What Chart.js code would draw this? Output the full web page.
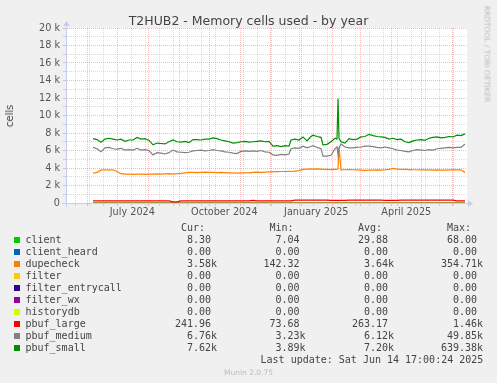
<!DOCTYPE html>
<html>
<head>
<meta charset="utf-8">
<title>T2HUB2 - Memory cells used - by year</title>
<script src="https://cdn.jsdelivr.net/npm/chart.js@4.4.1/dist/chart.umd.min.js"></script>
<style>
html,body{margin:0;padding:0;background:#f0f0f0;overflow:hidden;}
#wrap{position:relative;width:497px;height:383px;background:#f0f0f0;}
#c{position:absolute;left:0;top:0;}
.t{position:absolute;white-space:pre;margin:0;}
.mono{font-family:'DejaVu Sans Mono',monospace;font-size:10px;line-height:12px;color:#444;}
.sw{position:absolute;width:6px;height:6px;}
</style>
</head>
<body>
<div id="wrap">
<canvas id="c" width="497" height="383"></canvas>
<div class="t" id="title" style="left:0;width:497px;top:12.5px;text-align:center;font:12.5px/15px 'DejaVu Sans';color:#444;">T2HUB2 - Memory cells used - by year</div>
<div class="t" id="ylab" style="left:10px;top:115.5px;transform:translate(-50%,-50%) rotate(-90deg);font:10px/12px 'DejaVu Sans';color:#444;">cells</div>
<div class="t" id="rrd" style="left:487px;top:53.5px;transform:translate(-50%,-50%) rotate(90deg);font:7.5px/9px 'DejaVu Sans';color:#bbb;">RRDTOOL / TOBI OETIKER</div>
<div class="t" id="munin" style="left:0;width:497px;text-align:center;top:367.9px;font:7.5px/9px 'DejaVu Sans';color:#bbb;">Munin 2.0.75</div>
</div>
<script>
// ---------- data ----------
// day offsets from the graph start (400 days before last update)
const days = [27,31,35,39,43,47,51,55,59,63,
  67,71,75,79,83,87,91,95,99,103,
  107,111,115,119,123,127,131,135,139,143,
  147,151,155,159,163,167,171,175,179,183,
  187,191,195,199,203,207,211,215,219,223,
  225,229,233,237,241,245,247,251,255,257,
  261,265,269,271,272,273,275,279,283,287,
  291,295,299,303,307,311,315,319,323,327,
  331,335,339,343,347,351,355,359,363,367,
  371,375,379,383,387,391,395,399];

const pbuf_small = [7350,7250,6950,7300,7400,7300,7200,7300,7050,7200,
  7200,7500,7300,7350,7150,6650,6850,6800,6750,7000,
  7200,7000,6950,7050,6900,7250,7250,7200,7300,7300,
  7450,7350,7200,7100,7000,6850,6900,7000,7050,6950,
  7000,7050,7100,7000,7050,6500,6550,6450,6550,6500,
  7200,7300,7200,7550,7100,7600,7750,7600,7500,6650,
  6700,7000,7400,7300,11900,7400,7000,6850,7350,7250,
  7300,7550,7600,7850,7700,7600,7550,7500,7300,7400,
  7250,7300,7000,6900,7100,7200,7250,7150,7400,7500,
  7550,7450,7500,7600,7550,7750,7700,7900];

const pbuf_medium = [6350,6200,5850,6300,6350,6200,6150,6250,6050,6100,
  6050,6250,6050,6100,6000,5500,5750,5700,5600,5750,
  6050,5850,5800,5750,5800,5950,6000,6050,5950,6000,
  6100,6000,5950,5850,5800,5700,5650,5900,5950,5900,
  5950,5900,6000,5850,5800,5500,5450,5550,5500,5600,
  6200,6300,6250,6500,6300,6450,6550,6350,6200,5350,
  5350,5450,6200,6400,5500,6300,6750,6400,6300,6300,
  6350,6400,6500,6500,6450,6350,6300,6400,6300,6200,
  6050,6000,5900,5850,6000,6100,6050,6000,6100,6050,
  6200,6250,6300,6350,6300,6350,6350,6750];

const dupecheck = [3400,3500,3750,3800,3750,3800,3600,3350,3300,3300,
  3280,3300,3300,3280,3300,3300,3320,3300,3320,3350,
  3300,3350,3380,3450,3500,3500,3480,3500,3520,3500,
  3500,3480,3500,3480,3450,3450,3420,3450,3450,3450,
  3500,3520,3500,3520,3550,3550,3580,3600,3600,3620,
  3600,3650,3700,3850,3880,3900,3880,3900,3880,3850,
  3850,3820,3850,3850,3900,6400,3780,3800,3820,3800,
  3780,3750,3720,3750,3750,3780,3750,3800,3850,3950,
  3880,3850,3850,3820,3800,3800,3780,3800,3780,3750,
  3780,3750,3750,3780,3800,3780,3800,3500];

const pbuf_large = [240,240,240,240,240,240,240,240,240,240,
  240,240,240,240,240,240,240,240,240,240,
  140,140,235,235,235,235,235,235,235,235,
  235,235,235,235,235,235,235,235,235,235,
  300,235,235,235,235,235,235,235,235,235,
  240,330,330,330,330,330,330,330,330,330,
  330,300,300,310,280,300,290,300,330,330,
  330,330,330,330,330,330,330,310,310,310,
  310,330,330,330,330,330,330,330,330,330,
  330,330,330,330,330,240,240,240];

const clientDays = [27, 127, 227, 327, 399];
const client = [60, 30, 25, 20, 8];
const zeroDays = [27, 399];
const client_heard = [0, 0];
const filter = [0, 0];
const filter_entrycall = [0, 0];
const filter_wx = [0, 0];
const historydb = [0, 0];

// legend table
const names  = ['client','client_heard','dupecheck','filter','filter_entrycall','filter_wx','historydb','pbuf_large','pbuf_medium','pbuf_small'];
const colors = ['#00CC00','#0066B3','#FF8000','#FFCC00','#330099','#990099','#CCFF00','#FF0000','#808080','#008F00'];
const curV = ['8.30 ','0.00 ','3.58k','0.00 ','0.00 ','0.00 ','0.00 ','241.96 ','6.76k','7.62k'];
const minV = ['7.04 ','0.00 ','142.32 ','0.00 ','0.00 ','0.00 ','0.00 ','73.68 ','3.23k','3.89k'];
const avgV = ['29.88 ','0.00 ','3.64k','0.00 ','0.00 ','0.00 ','0.00 ','263.17 ','6.12k','7.20k'];
const maxV = ['68.00 ','0.00 ','354.71k','0.00 ','0.00 ','0.00 ','0.00 ','1.46k','49.85k','639.38k'];
const headers = ['Cur:','Min:','Avg:','Max:'];
const lastUpdate = 'Last update: Sat Jun 14 17:00:24 2025';

// axis labels
const monthStarts = ['2024-06-01','2024-07-01','2024-08-01','2024-09-01','2024-10-01','2024-11-01','2024-12-01',
  '2025-01-01','2025-02-01','2025-03-01','2025-04-01','2025-05-01','2025-06-01'];
const xLabels = ['July 2024','October 2024','January 2025','April 2025'];
const xLabelDates = ['2024-07-16','2024-10-16','2025-01-16','2025-04-16'];
const minorGridFrom = '2024-05-20';
const yMax = 20000;

// ---------- build ----------
const DAY = 86400000;
const endTime = Date.UTC(2025,5,14,17,0,24);
const startTime = endTime - 400*DAY;
const dayOf = s => (Date.parse(s + 'T00:00:00Z') - startTime) / DAY;

const xTicks = [];
monthStarts.forEach(s => xTicks.push({value: dayOf(s), kind: 'major', label: ''}));
for (let m = Date.parse(minorGridFrom + 'T00:00:00Z'); m < endTime; m += 14*DAY) {
  const d = (m - startTime) / DAY;
  if (d > 0 && !xTicks.some(t => t.kind === 'major' && Math.abs(t.value - d) < 0.5))
    xTicks.push({value: d, kind: 'minor', label: ''});
}
xLabels.forEach((l, i) => xTicks.push({value: dayOf(xLabelDates[i]), kind: 'label', label: l}));
xTicks.sort((a, b) => a.value - b.value);

const MAJOR = 'rgba(224,79,79,0.38)';
const MINOR = 'rgba(143,143,143,0.32)';
const AXIS = '#C8CEF2';
const FONT = {family: "'DejaVu Sans'", size: 9.7};
const TXT = '#555';

const series = [
  {name:'client', days: clientDays, vals: client},
  {name:'client_heard', days: zeroDays, vals: client_heard},
  {name:'dupecheck', days: days, vals: dupecheck},
  {name:'filter', days: zeroDays, vals: filter},
  {name:'filter_entrycall', days: zeroDays, vals: filter_entrycall},
  {name:'filter_wx', days: zeroDays, vals: filter_wx},
  {name:'historydb', days: zeroDays, vals: historydb},
  {name:'pbuf_large', days: days, vals: pbuf_large},
  {name:'pbuf_medium', days: days, vals: pbuf_medium},
  {name:'pbuf_small', days: days, vals: pbuf_small}
];
const datasets = series.map((s, i) => ({
  label: s.name,
  data: s.days.map((d, j) => ({x: d, y: s.vals[j]})),
  borderColor: colors[i],
  backgroundColor: colors[i],
  borderWidth: 1.2,
  pointRadius: 0,
  fill: false,
  tension: 0,
  order: series.length - i
}));

const rrdFrame = {
  id: 'rrdFrame',
  beforeDraw(chart) {
    const {ctx, chartArea: a} = chart;
    ctx.save();
    ctx.fillStyle = '#ffffff';
    ctx.fillRect(a.left, a.top, a.right - a.left + 1, a.bottom - a.top + 1);
    ctx.restore();
  },
  beforeDatasetsDraw(chart) {
    const {ctx, chartArea: a} = chart;
    const ox = Math.round(a.left) + 0.5, oy = Math.round(a.bottom) + 0.5;
    ctx.save();
    ctx.strokeStyle = AXIS; ctx.fillStyle = AXIS; ctx.lineWidth = 1;
    ctx.beginPath();
    ctx.moveTo(a.left - 4, oy); ctx.lineTo(a.right + 4, oy);
    ctx.moveTo(ox, a.bottom + 4); ctx.lineTo(ox, a.top - 4);
    ctx.stroke();
    ctx.beginPath();
    ctx.moveTo(a.right + 2, oy - 3.5); ctx.lineTo(a.right + 2, oy + 3.5); ctx.lineTo(a.right + 7, oy); ctx.closePath();
    ctx.fill();
    ctx.beginPath();
    ctx.moveTo(ox - 3.5, a.top - 2); ctx.lineTo(ox + 3.5, a.top - 2); ctx.lineTo(ox, a.top - 7); ctx.closePath();
    ctx.fill();
    ctx.restore();
  }
};

new Chart(document.getElementById('c'), {
  type: 'line',
  data: {datasets},
  plugins: [rrdFrame],
  options: {
    responsive: false,
    animation: false,
    devicePixelRatio: 1,
    layout: {padding: {left: 6, right: 31, top: 28, bottom: 160}},
    plugins: {legend: {display: false}, tooltip: {enabled: false}, title: {display: false}},
    scales: {
      x: {
        type: 'linear', min: 0, max: 400,
        afterFit(s) { s.height = 20; },
        afterBuildTicks(s) { s.ticks = xTicks.map(t => ({value: t.value})); },
        ticks: {
          autoSkip: false, maxRotation: 0, minRotation: 0, padding: 1,
          font: FONT, color: TXT,
          callback: (v, i) => (xTicks[i] ? xTicks[i].label : '')
        },
        grid: {
          drawTicks: true, tickLength: 3,
          color: c => { const t = xTicks[c.index]; return !t || t.kind === 'label' ? 'rgba(0,0,0,0)' : (t.kind === 'major' ? MAJOR : MINOR); },
          tickColor: c => { const t = xTicks[c.index]; return !t || t.kind === 'label' ? 'rgba(0,0,0,0)' : (t.kind === 'major' ? MAJOR : MINOR); }
        },
        border: {display: true, color: AXIS, dash: [1, 1]}
      },
      y: {
        type: 'linear', min: 0, max: yMax,
        afterFit(s) { s.width = 60; },
        ticks: {
          stepSize: 1000, autoSkip: false, padding: 3,
          font: FONT, color: TXT,
          callback: v => (v % 2000 === 0 ? (v === 0 ? '0' : (v / 1000) + ' k') : '')
        },
        grid: {
          drawTicks: true, tickLength: 3,
          color: c => (c.tick && c.tick.value % 2000 === 0 ? MAJOR : MINOR),
          tickColor: c => (c.tick && c.tick.value % 2000 === 0 ? MAJOR : MINOR)
        },
        border: {display: true, color: AXIS, dash: [1, 1]}
      }
    }
  }
});

// ---------- legend table (real text) ----------
const wrap = document.getElementById('wrap');
function addText(txt, style) {
  const d = document.createElement('div');
  d.className = 't mono';
  d.textContent = txt;
  Object.assign(d.style, style);
  wrap.appendChild(d);
  return d;
}
const colRight = [279.9, 191.4, 102.9, 13.9];
const rowTop0 = 233.8, rowStep = 12;
headers.forEach((h, k) => addText(h, {right: (colRight[k] + 12.04) + 'px', top: (rowTop0 - rowStep) + 'px'}));
names.forEach((n, i) => {
  const top = rowTop0 + rowStep * i;
  const sw = document.createElement('div');
  sw.className = 'sw';
  sw.style.left = '14px';
  sw.style.top = (top + 3.5) + 'px';
  sw.style.background = colors[i];
  wrap.appendChild(sw);
  addText(n, {left: '25.5px', top: top + 'px'});
  [curV[i], minV[i], avgV[i], maxV[i]].forEach((v, k) => addText(v, {right: colRight[k] + 'px', top: top + 'px'}));
});
addText(lastUpdate, {right: '13.7px', top: (rowTop0 + rowStep * 10) + 'px'});
</script>
</body>
</html>
